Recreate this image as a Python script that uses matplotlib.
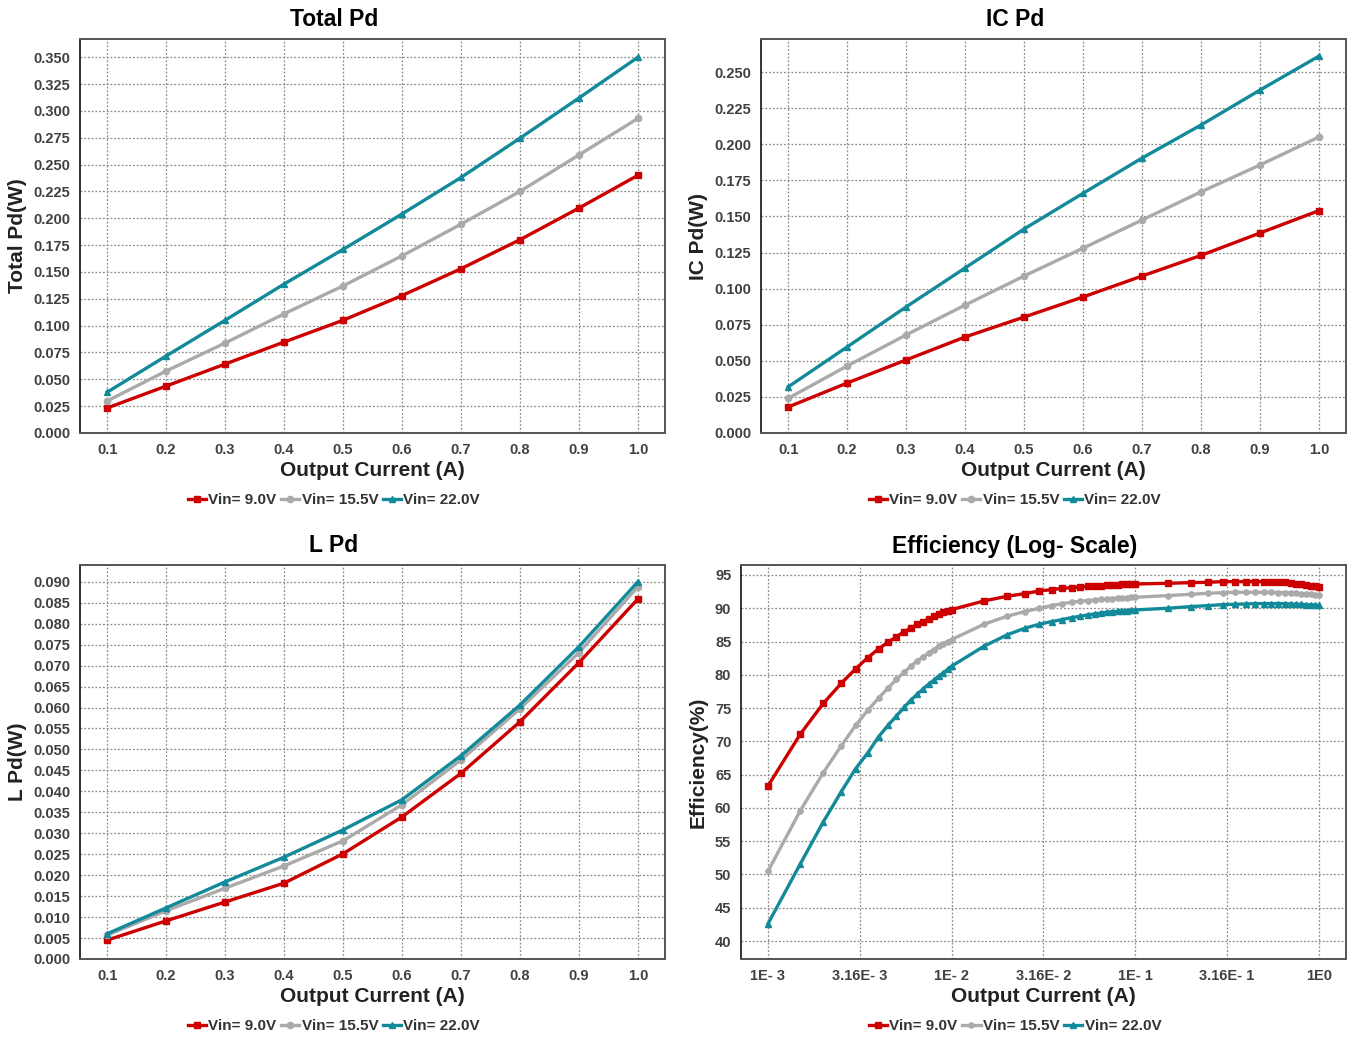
import matplotlib
matplotlib.use("Agg")
import matplotlib.pyplot as plt
from matplotlib.ticker import NullLocator

plt.rcParams['font.family'] = ['Liberation Sans', 'DejaVu Sans']
plt.rcParams['font.weight'] = 'bold'

# ---- data ----
current = [0.1, 0.2, 0.3, 0.4, 0.5, 0.6, 0.7, 0.8, 0.9, 1.0]
series_names = ["Vin= 9.0V", "Vin= 15.5V", "Vin= 22.0V"]

total_pd_9v = [0.0233, 0.0437, 0.0642, 0.0847, 0.105, 0.128, 0.153, 0.180, 0.2095, 0.240]
total_pd_15v = [0.0298, 0.0577, 0.0838, 0.111, 0.137, 0.165, 0.1945, 0.225, 0.259, 0.293]
total_pd_22v = [0.038, 0.0717, 0.105, 0.1387, 0.171, 0.204, 0.238, 0.2746, 0.312, 0.350]

ic_pd_9v = [0.018, 0.0346, 0.0506, 0.0665, 0.0803, 0.0942, 0.1087, 0.123, 0.1385, 0.154]
ic_pd_15v = [0.024, 0.0464, 0.0679, 0.0886, 0.1087, 0.128, 0.1475, 0.167, 0.1856, 0.205]
ic_pd_22v = [0.0319, 0.0596, 0.0873, 0.1143, 0.1413, 0.166, 0.1904, 0.2133, 0.2375, 0.261]

l_pd_9v = [0.0045, 0.0091, 0.0136, 0.0181, 0.0251, 0.0339, 0.0443, 0.0566, 0.0707, 0.0859]
l_pd_15v = [0.0057, 0.0115, 0.0169, 0.0222, 0.0282, 0.0368, 0.0475, 0.0597, 0.0731, 0.0888]
l_pd_22v = [0.0060, 0.0122, 0.0184, 0.0243, 0.0308, 0.0380, 0.0485, 0.0606, 0.0745, 0.0900]

eff_current_ma = [1, 1.5, 2, 2.5, 3, 3.5, 4, 4.5, 5, 5.5, 6, 6.5, 7, 7.5, 8, 8.5, 9, 9.5, 10,
                  15, 20, 25, 30, 35, 40, 45, 50, 55, 60, 65, 70, 75, 80, 85, 90, 95, 100,
                  150, 200, 250, 300, 350, 400, 450, 500, 550, 600, 650, 700, 750, 800,
                  850, 900, 950, 1000]
eff_9v = [63.3, 71.1, 75.7, 78.7, 80.9, 82.6, 83.9, 84.9, 85.7, 86.5, 87.0, 87.6, 88.0, 88.4,
          88.8, 89.1, 89.4, 89.6, 89.8,
          91.1, 91.8, 92.2, 92.6, 92.8, 93.0, 93.1, 93.2, 93.3, 93.35, 93.4, 93.45, 93.5,
          93.55, 93.58, 93.6, 93.62, 93.65,
          93.75, 93.85, 93.9, 94.0, 94.0, 94.0, 94.0, 94.0, 93.95, 93.95, 93.9, 93.8, 93.7,
          93.6, 93.5, 93.4, 93.3, 93.15]
eff_15v = [50.5, 59.6, 65.3, 69.3, 72.4, 74.7, 76.5, 78.0, 79.3, 80.4, 81.3, 82.1, 82.7, 83.3,
           83.8, 84.3, 84.7, 85.0, 85.3,
           87.6, 88.8, 89.5, 90.0, 90.4, 90.7, 90.9, 91.05, 91.15, 91.25, 91.35, 91.4, 91.45,
           91.5, 91.55, 91.6, 91.63, 91.65,
           91.9, 92.1, 92.25, 92.35, 92.4, 92.4, 92.4, 92.4, 92.4, 92.35, 92.35, 92.3, 92.25,
           92.2, 92.15, 92.1, 92.0, 91.95]
eff_22v = [42.6, 51.6, 57.9, 62.4, 65.9, 68.3, 70.7, 72.4, 73.8, 75.1, 76.2, 77.1, 77.9, 78.6,
           79.2, 79.8, 80.3, 80.8, 81.3,
           84.3, 86.0, 87.0, 87.6, 88.0, 88.3, 88.6, 88.8, 89.0, 89.15, 89.3, 89.4, 89.5,
           89.55, 89.6, 89.65, 89.7, 89.75,
           90.0, 90.25, 90.4, 90.55, 90.6, 90.65, 90.7, 90.7, 90.7, 90.7, 90.7, 90.65, 90.6,
           90.6, 90.55, 90.5, 90.5, 90.45]

eff_ticks = [1e-3, 3.16e-3, 1e-2, 3.16e-2, 1e-1, 3.16e-1, 1.0]
eff_tick_labels = ["1E- 3", "3.16E- 3", "1E- 2", "3.16E- 2", "1E- 1", "3.16E- 1", "1E0"]

colors = ["#cc0000", "#aaaaaa", "#128a99"]
markers = ["s", "o", "^"]


def style_axes(ax, title, ylabel, title_x):
    ax.grid(True, which='major', color='#8c8c8c', linestyle=(0, (1.5, 1.5)), linewidth=0.9)
    ax.set_axisbelow(True)
    ax.tick_params(length=0, labelsize=10.5, labelcolor='#404040', pad=7)
    for lbl in ax.get_xticklabels() + ax.get_yticklabels():
        lbl.set_fontweight('bold')
    ax.spines['left'].set_color('#111111')
    ax.spines['left'].set_linewidth(1.2)
    for s in ['top', 'right', 'bottom']:
        ax.spines[s].set_color('#555555')
        ax.spines[s].set_linewidth(1.4)
    ax.set_title(title, fontsize=16.5, fontweight='bold', pad=9, x=title_x)
    ax.set_ylabel(ylabel, fontsize=15, fontweight='bold', color='#222222')
    ax.yaxis.label.set_va('center')
    ax.set_xlabel("Output Current (A)", fontsize=15, fontweight='bold', color='#222222')
    ax.xaxis.set_label_coords(0.5, -0.096)
    ax.xaxis.label.set_va('center')
    ax.legend(loc='center', bbox_to_anchor=(title_x, -0.17), ncol=3, frameon=False,
              handlelength=1.2, handletextpad=0.15, columnspacing=0.3,
              prop={'size': 11, 'weight': 'bold'}, labelcolor='#333333')


def draw_linear(ax, ys, ylim, yticks, title, ylabel, xlim):
    for y, c, m, name in zip(ys, colors, markers, series_names):
        ax.plot(current, y, color=c, marker=m, markersize=4.5, linewidth=2.4, label=name)
    ax.set_xlim(*xlim)
    ax.set_ylim(*ylim)
    ax.set_xticks(current)
    ax.set_xticklabels([f"{v:.1f}" for v in current])
    ax.set_yticks(yticks)
    ax.set_yticklabels([f"{v:.3f}" for v in yticks])
    style_axes(ax, title, ylabel, 0.434)
    ax.yaxis.set_label_coords(-0.106, 0.5)


fig = plt.figure(figsize=(13.51, 10.39), dpi=100)

ax1 = fig.add_axes([80 / 1351, 1 - 433 / 1039, 585 / 1351, 394 / 1039])
ax2 = fig.add_axes([761 / 1351, 1 - 433 / 1039, 585 / 1351, 394 / 1039])
ax3 = fig.add_axes([80 / 1351, 1 - 959 / 1039, 585 / 1351, 394 / 1039])
ax4 = fig.add_axes([741 / 1351, 1 - 959 / 1039, 605 / 1351, 394 / 1039])

draw_linear(ax1, [total_pd_9v, total_pd_15v, total_pd_22v], (0, 0.367),
            [i * 0.025 for i in range(15)], "Total Pd", "Total Pd(W)", (0.054, 1.046))
draw_linear(ax2, [ic_pd_9v, ic_pd_15v, ic_pd_22v], (0, 0.2729),
            [i * 0.025 for i in range(11)], "IC Pd", "IC Pd(W)", (0.054, 1.046))
draw_linear(ax3, [l_pd_9v, l_pd_15v, l_pd_22v], (0, 0.094),
            [i * 0.005 for i in range(19)], "L Pd", "L Pd(W)", (0.054, 1.046))

eff_current = [v / 1000 for v in eff_current_ma]
for y, c, m, name in zip([eff_9v, eff_15v, eff_22v], colors, markers, series_names):
    ax4.plot(eff_current, y, color=c, marker=m, markersize=3.8, linewidth=2.4, label=name)
ax4.set_xscale('log')
ax4.set_xlim(10 ** -3.147, 10 ** 0.147)
ax4.set_xticks(eff_ticks)
ax4.set_xticklabels(eff_tick_labels)
ax4.xaxis.set_minor_locator(NullLocator())
ax4.set_ylim(37.3, 96.5)
ax4.set_yticks(list(range(40, 96, 5)))
style_axes(ax4, "Efficiency (Log- Scale)", "Efficiency(%)", 0.453)
ax4.yaxis.set_label_coords(-0.071, 0.5)

fig.savefig("out.png", dpi=100)
